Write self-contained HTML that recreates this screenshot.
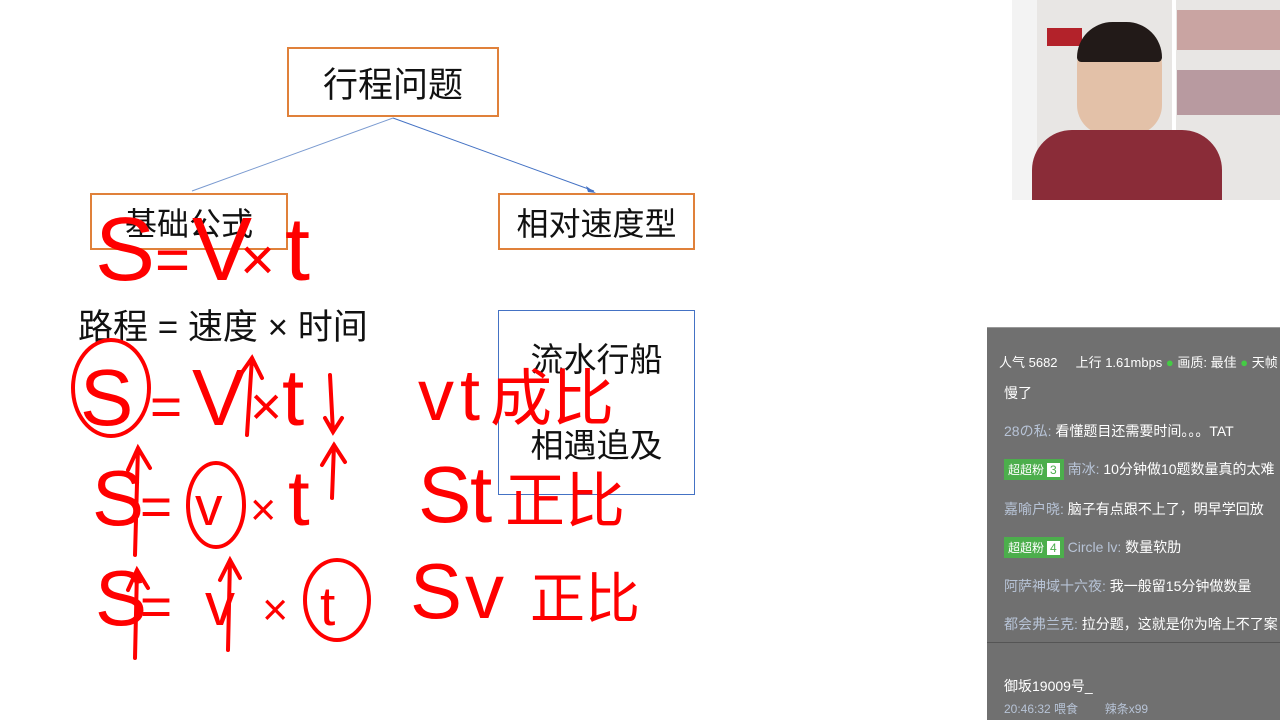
<!DOCTYPE html>
<html><head><meta charset="utf-8"><style>
body{margin:0;width:1280px;height:720px;overflow:hidden;background:#fff;position:relative;font-family:"Liberation Sans","Noto Sans CJK SC",sans-serif}
.box{position:absolute;box-sizing:border-box;display:flex;align-items:center;justify-content:center;font-size:33px;color:#111}
.chat{position:absolute;left:987px;top:327px;width:293px;height:393px;background:#707070;color:#fff;font-size:14px}
.chat div{position:absolute;white-space:nowrap}
.n{color:#b7c3d6}
.badge{display:inline-block;background:#4cae4c;color:#fff;font-size:12px;padding:1px 3px;border:1px solid #4cae4c}
.badge b{background:#fff;color:#4cae4c;font-weight:normal;padding:0 3px;margin-left:3px}
</style></head><body>
<div class="box" style="left:287px;top:47px;width:212px;height:70px;border:2px solid #e0813a;font-size:35px">行程问题</div>
<div class="box" style="left:90px;top:193px;width:198px;height:57px;border:2px solid #e0813a;font-size:32px">基础公式</div>
<div class="box" style="left:498px;top:193px;width:197px;height:57px;border:2px solid #e0813a;font-size:32px">相对速度型</div>
<div class="box" style="left:498px;top:310px;width:197px;height:185px;border:1.5px solid #4472c4;flex-direction:column;font-size:33px;line-height:86px">流水行船<br>相遇追及</div>
<div style="position:absolute;left:78px;top:299px;font-size:35px;color:#111">路程 = 速度 × 时间</div>
<svg width="1280" height="720" style="position:absolute;left:0;top:0">
<line x1="393" y1="118" x2="192" y2="191" stroke="#7a9ad0" stroke-width="1"/>
<line x1="393" y1="118" x2="594" y2="191" stroke="#4472c4" stroke-width="1"/>
<polygon points="596,193 586,186 588,192" fill="#4472c4"/>
<g fill="#f00" font-family="Liberation Sans,sans-serif">
<text y="280" font-size="90"><tspan x="95">S</tspan><tspan x="155" font-size="60">=</tspan><tspan x="192">V</tspan><tspan x="240" font-size="60">×</tspan><tspan x="285">t</tspan></text>
<text y="425" font-size="80"><tspan x="80">S</tspan><tspan x="150" font-size="55">=</tspan><tspan x="192">V</tspan><tspan x="250" font-size="55">×</tspan><tspan x="282">t</tspan></text>
<text y="420" font-size="72"><tspan x="418">v</tspan><tspan x="460">t</tspan><tspan x="490" font-size="62">成比</tspan></text>
<text y="525" font-size="78"><tspan x="92">S</tspan><tspan x="140" font-size="55">=</tspan><tspan x="195" font-size="55">v</tspan><tspan x="250" font-size="45">×</tspan><tspan x="288">t</tspan></text>
<text y="522" font-size="80"><tspan x="418">S</tspan><tspan x="470">t</tspan><tspan x="505" font-size="60">正比</tspan></text>
<text y="625" font-size="78"><tspan x="95">S</tspan><tspan x="140" font-size="55">=</tspan><tspan x="205" font-size="60">v</tspan><tspan x="262" font-size="45">×</tspan><tspan x="320" font-size="55">t</tspan></text>
<text y="618" font-size="78"><tspan x="410">S</tspan><tspan x="465">v</tspan><tspan x="530" font-size="55">正比</tspan></text>
</g>
<g fill="none" stroke="#f00" stroke-width="4" stroke-linecap="round">
<ellipse cx="111" cy="388" rx="38" ry="48"/>
<ellipse cx="216" cy="505" rx="28" ry="42"/>
<ellipse cx="337" cy="600" rx="32" ry="40"/>
<path d="M247 435 L252 358 M238 378 L252 358 L262 378"/>
<path d="M330 375 L333 432 M325 418 L333 432 L342 418"/>
<path d="M135 555 L138 448 M128 470 L138 448 L150 468"/>
<path d="M332 498 L334 445 M322 465 L334 445 L345 462"/>
<path d="M135 658 L137 570 M128 590 L137 570 L148 588"/>
<path d="M228 650 L230 560 M220 580 L230 560 L240 578"/>
</g>
</svg>
<div style="position:absolute;left:1012px;top:0;width:268px;height:200px;background:#e8e6e4">
<div style="position:absolute;left:0;top:0;width:25px;height:200px;background:#f3f3f3"></div>
<div style="position:absolute;left:160px;top:0;width:4px;height:200px;background:#fff"></div>
<div style="position:absolute;left:165px;top:10px;width:103px;height:40px;background:#c9a4a2"></div>
<div style="position:absolute;left:165px;top:70px;width:103px;height:45px;background:#b89aa0"></div>
<div style="position:absolute;left:35px;top:28px;width:35px;height:18px;background:#b3222a"></div>
<div style="position:absolute;left:65px;top:25px;width:85px;height:110px;background:#e3c1a8;border-radius:40px 40px 30px 30px"></div>
<div style="position:absolute;left:65px;top:22px;width:85px;height:40px;background:#221a18;border-radius:40px 40px 5px 5px"></div>
<div style="position:absolute;left:20px;top:130px;width:190px;height:70px;background:#8a2c38;border-radius:40px 40px 0 0"></div>
</div>
<div class="chat">
<div style="left:0;top:0;width:293px;height:1px;background:#999"></div>
<div style="left:12px;top:25px;font-size:13px">人气 5682 &nbsp;&nbsp;&nbsp; 上行 1.61mbps <span style="color:#4c4">●</span> 画质: 最佳 <span style="color:#4c4">●</span> 天帧</div>
<div style="left:17px;top:56px">慢了</div>
<div style="left:17px;top:94px"><span class="n">28の私:</span> 看懂题目还需要时间。。。TAT</div>
<div style="left:17px;top:132px"><span class="badge">超超粉<b>3</b></span> <span class="n">南冰:</span> 10分钟做10题数量真的太难</div>
<div style="left:17px;top:172px"><span class="n">嘉喻户晓:</span> 脑子有点跟不上了，明早学回放</div>
<div style="left:17px;top:210px"><span class="badge">超超粉<b>4</b></span> <span class="n">Circle lv:</span> 数量软肋</div>
<div style="left:17px;top:249px"><span class="n">阿萨神域十六夜:</span> 我一般留15分钟做数量</div>
<div style="left:17px;top:287px"><span class="n">都会弗兰克:</span> 拉分题，这就是你为啥上不了案</div>
<div style="left:0;top:315px;width:293px;height:1px;background:#555"></div>
<div style="left:17px;top:349px">御坂19009号_</div>
<div style="left:17px;top:373px;font-size:12px"><span class="n">20:46:32 喂食</span> &nbsp;&nbsp;&nbsp;&nbsp;&nbsp;&nbsp; <span class="n">辣条x99</span></div>
</div>
</body></html>
